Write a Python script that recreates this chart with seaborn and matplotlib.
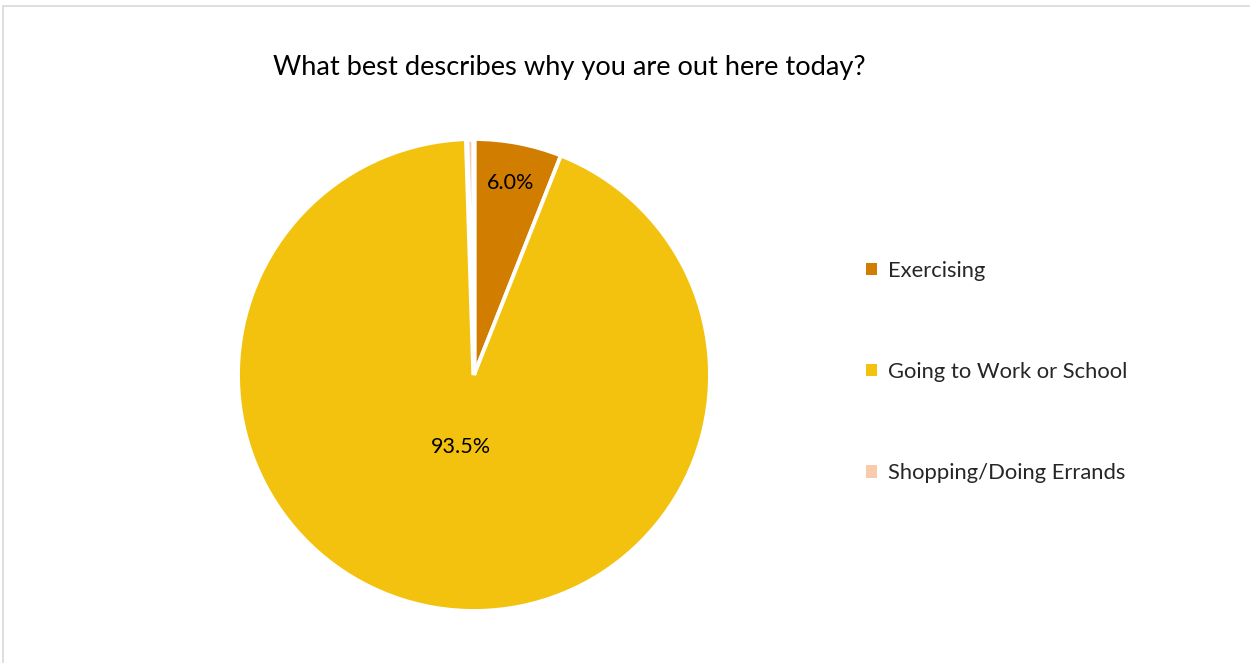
import numpy as np
import matplotlib
matplotlib.use("Agg")
import matplotlib.pyplot as plt
from matplotlib.patches import Patch, Rectangle
import seaborn as sns

# Survey responses (share of respondents, %)
categories = ["Exercising", "Going to Work or School", "Shopping/Doing Errands"]
shares = [6.0, 93.5, 0.5]
colors = ["#D17D00", "#F2C20F", "#F8CBAD"]
title = "What best describes why you are out here today?"

sns.set_theme(style="white")
plt.rcParams["font.family"] = ["Lato", "DejaVu Sans"]

W, H = 1250, 663
fig = plt.figure(figsize=(W / 100, H / 100), dpi=100)

# thin chart-area frame
fig.patches.append(Rectangle((3 / W, -0.1), 1.2, 1 - 6 / H + 0.1,
                             transform=fig.transFigure, fill=False,
                             edgecolor="#D9D9D9", linewidth=1.2))

# pie axes: centre (474, 375) px from top-left, radius 236 px
cx, cy, r = 474, 375, 236
ax = fig.add_axes([(cx - r) / W, (H - cy - r) / H, 2 * r / W, 2 * r / H])

wedges, _, autotexts = ax.pie(
    shares, colors=colors, startangle=90, counterclock=False,
    autopct=lambda p: f"{p:.1f}%" if p >= 1 else "",
    wedgeprops=dict(edgecolor="white", linewidth=2.8),
    textprops=dict(fontsize=15.5, color="#000000"), radius=1.0)

# very thin slices are swallowed by the white separators
for w, s in zip(wedges, shares):
    if s < 1:
        w.set_linewidth(3.8)

# data-label distances from the centre, as fraction of the radius
label_dist = [0.83, 0.31, 0.8]
for w, t, d in zip(wedges, autotexts, label_dist):
    mid = np.deg2rad((w.theta1 + w.theta2) / 2)
    t.set_position((d * np.cos(mid), d * np.sin(mid)))
    t.set_ha("center")
    t.set_va("center")

ax.set_xlim(-1, 1)
ax.set_ylim(-1, 1)
ax.set_aspect("equal")
ax.axis("off")

fig.text(569 / W, 1 - 67 / H, title, ha="center", va="center",
         fontsize=19.6, color="#000000")

handles = [Patch(facecolor=c, edgecolor="none") for c in colors]
leg = fig.legend(handles, categories, loc="center left",
                 bbox_to_anchor=(866 / W, 1 - 372 / H),
                 frameon=False, fontsize=15.8, handlelength=0.5,
                 handleheight=0.5, handletextpad=0.5, labelspacing=3.7,
                 borderpad=0, borderaxespad=0)

fig.savefig("out.png", dpi=100, facecolor="white")
